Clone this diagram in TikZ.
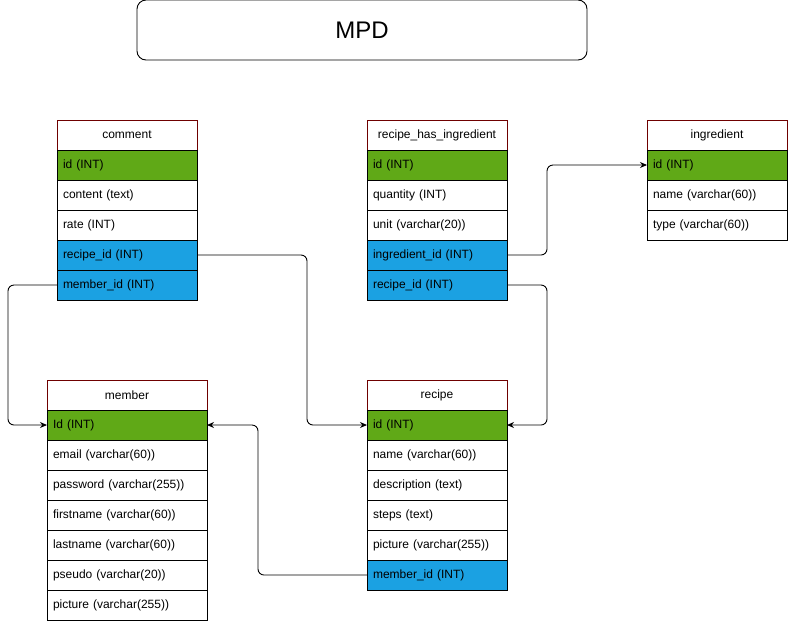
\documentclass[tikz,border=0pt]{standalone}
\usepackage{fontspec}
\setmainfont{Liberation Sans}
\usepackage{tikz}
\usetikzlibrary{positioning,arrows.meta}

\definecolor{hdred}{HTML}{6F0000}
\definecolor{pkgreen}{HTML}{60A917}
\definecolor{fkblue}{HTML}{1BA1E2}

\begin{document}
\begin{tikzpicture}[
    x=1pt, y=-1pt,
    node distance=0pt,
    title/.style={rectangle, draw, rounded corners=9pt, line width=0.9pt, minimum width=450pt, minimum height=60pt, font=\fontsize{24}{28}\selectfont},
    tblhead/.style={rectangle, draw=hdred, line width=0.9pt, outer sep=0pt, minimum height=30pt, text width=128pt, inner xsep=6pt, align=center, anchor=north west, font=\fontsize{12}{14}\selectfont},
    field/.style={rectangle, draw, fill=white, line width=0.9pt, outer sep=0pt, minimum height=30pt, text width=128pt, inner xsep=6pt, align=left, font=\fontsize{12}{14}\selectfont},
    pk/.style={field, fill=pkgreen},
    fk/.style={field, fill=fkblue},
    wide/.style={text width=148pt},
    link/.style={draw, line width=0.9pt, rounded corners=6pt, -{Stealth[length=7pt,width=6pt]}}
]
    \useasboundingbox (0,0) rectangle (789,622);

    \node[title] (mpd) at (362,30) {MPD};

    % comment
    \node[tblhead] (comment) at (57,120) {comment};
    \node[pk, below=of comment] (comment-id) {id (INT)};
    \node[field, below=of comment-id] (comment-content) {content (text)};
    \node[field, below=of comment-content] (comment-rate) {rate (INT)};
    \node[fk, below=of comment-rate] (comment-recipe) {recipe\_id (INT)};
    \node[fk, below=of comment-recipe] (comment-member) {member\_id (INT)};

    % recipe_has_ingredient
    \node[tblhead] (rhi) at (367,120) {recipe\_has\_ingredient};
    \node[pk, below=of rhi] (rhi-id) {id (INT)};
    \node[field, below=of rhi-id] (rhi-quantity) {quantity (INT)};
    \node[field, below=of rhi-quantity] (rhi-unit) {unit (varchar(20))};
    \node[fk, below=of rhi-unit] (rhi-ingredient) {ingredient\_id (INT)};
    \node[fk, below=of rhi-ingredient] (rhi-recipe) {recipe\_id (INT)};

    % ingredient
    \node[tblhead] (ingredient) at (647,120) {ingredient};
    \node[pk, below=of ingredient] (ingredient-id) {id (INT)};
    \node[field, below=of ingredient-id] (ingredient-name) {name (varchar(60))};
    \node[field, below=of ingredient-name] (ingredient-type) {type (varchar(60))};

    % member
    \node[tblhead, wide] (member) at (47,380) {member};
    \node[pk, wide, below=of member] (member-id) {Id (INT)};
    \node[field, wide, below=of member-id] (member-email) {email (varchar(60))};
    \node[field, wide, below=of member-email] (member-password) {password (varchar(255))};
    \node[field, wide, below=of member-password] (member-firstname) {firstname (varchar(60))};
    \node[field, wide, below=of member-firstname] (member-lastname) {lastname (varchar(60))};
    \node[field, wide, below=of member-lastname] (member-pseudo) {pseudo (varchar(20))};
    \node[field, wide, below=of member-pseudo] (member-picture) {picture (varchar(255))};

    % recipe
    \node[tblhead] (recipe) at (367,380) {recipe};
    \node[pk, below=of recipe] (recipe-id) {id (INT)};
    \node[field, below=of recipe-id] (recipe-name) {name (varchar(60))};
    \node[field, below=of recipe-name] (recipe-description) {description (text)};
    \node[field, below=of recipe-description] (recipe-steps) {steps (text)};
    \node[field, below=of recipe-steps] (recipe-picture) {picture (varchar(255))};
    \node[fk, below=of recipe-picture] (recipe-member) {member\_id (INT)};

    % links
    \draw[link] (comment-recipe.east) -- ++(110,0) |- (recipe-id.west);
    \draw[link] (comment-member.west) -- ++(-49,0) |- (member-id.west);
    \draw[link] (rhi-ingredient.east) -- ++(40,0) |- (ingredient-id.west);
    \draw[link] (rhi-recipe.east) -- ++(40,0) |- (recipe-id.east);
    \draw[link] (recipe-member.west) -- ++(-109,0) |- (member-id.east);
\end{tikzpicture}
\end{document}
